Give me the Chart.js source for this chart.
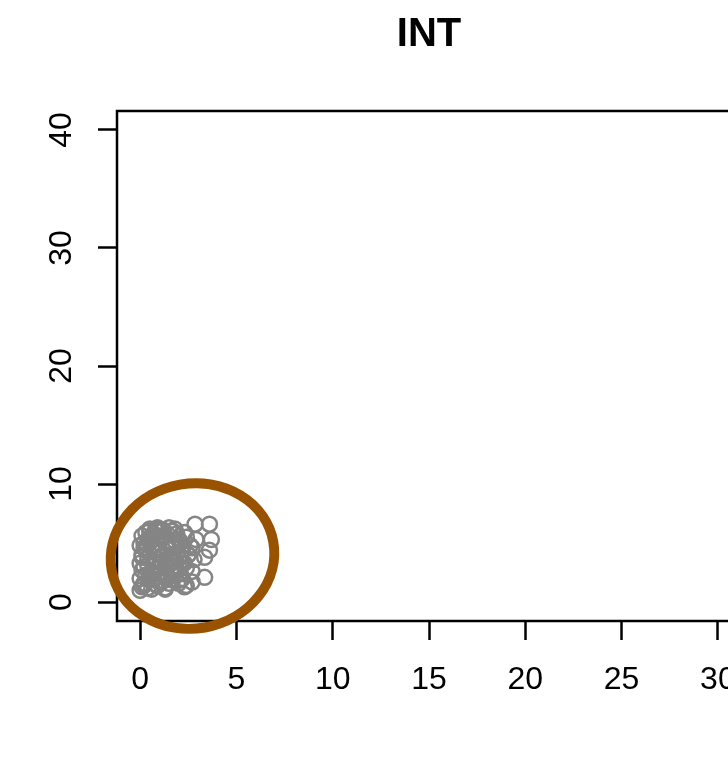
<!DOCTYPE html>
<html>
<head>
<meta charset="utf-8">
<script src="https://cdn.jsdelivr.net/npm/chart.js@4"></script>
<style>
  html, body { margin: 0; padding: 0; background: #fff; overflow: hidden; }
  #wrap { width: 728px; height: 777px; overflow: hidden; }
</style>
</head>
<body>
<div id="wrap"><canvas id="c" width="780" height="777"></canvas></div>
<script>
const title = 'INT';
const xTicks = [0, 5, 10, 15, 20, 25, 30];
const yTicks = [0, 10, 20, 30, 40];
const xLimits = [-1.2, 31.2];
const yLimits = [-1.6, 41.6];

// gray open circles
const pointX = [
  0.0, 0.1, 0.2, 0.0, 0.3, 0.1, 0.2, 0.0, 0.4, 0.1, 0.3, 0.0, 0.2, 0.4, 0.1, 0.5,
  0.6, 0.8, 0.7, 0.9, 0.6, 1.0, 0.8, 0.7, 1.1, 0.9, 0.6, 1.0, 0.8, 0.7, 1.2, 0.9, 1.1,
  1.3, 1.5, 1.4, 1.7, 1.6, 1.3, 1.8, 1.5, 1.9, 1.4, 1.6, 1.8, 1.3, 1.7, 1.5, 1.9,
  2.0, 2.2, 2.1, 2.4, 2.3, 2.0, 2.5, 2.2, 2.6, 2.1, 2.4, 2.3,
  2.7, 2.8, 2.7, 2.9,
  2.85, 3.6, 3.7, 3.6, 3.35, 3.35, 2.7,
  0.4, 1.0, 1.6, 2.2, 0.5, 1.2, 1.9, 0.3, 1.4,
  0.2, 0.5, 0.8, 1.1, 1.4, 1.7, 2.0, 2.3, 0.3, 0.6, 0.9, 1.2, 1.5, 1.8, 2.1, 2.4,
  0.1, 0.4, 0.7, 1.0, 1.3, 1.6, 1.9, 2.2, 2.5, 0.2, 0.5, 0.8, 1.1, 1.4, 1.7, 2.0,
  0.6, 1.0, 1.4, 1.8, 0.9, 1.3
];
const pointY = [
  1.0, 1.3, 1.6, 2.0, 2.3, 2.7, 3.0, 3.3, 3.7, 4.0, 4.4, 4.8, 5.0, 5.3, 5.6, 6.2,
  1.1, 1.5, 1.9, 2.2, 2.6, 2.9, 3.2, 3.5, 3.9, 4.2, 4.6, 5.0, 5.4, 5.8, 6.1, 6.3, 6.0,
  1.2, 1.6, 2.1, 2.5, 2.8, 3.1, 3.4, 3.8, 4.1, 4.5, 4.9, 5.2, 5.6, 6.0, 6.3, 5.8,
  1.6, 2.0, 2.4, 2.9, 3.3, 3.7, 4.0, 4.4, 4.8, 5.1, 5.5, 1.3,
  2.6, 3.6, 4.6, 5.3,
  6.6, 6.6, 5.3, 4.4, 3.8, 2.1, 1.7,
  1.2, 2.4, 3.6, 4.8, 6.0, 1.8, 2.7, 4.6, 5.1,
  1.4, 2.1, 2.8, 3.4, 4.0, 4.7, 5.3, 5.9, 5.9, 5.2, 4.5, 3.9, 3.2, 2.6, 1.9, 1.4,
  3.8, 3.1, 2.4, 1.7, 1.1, 1.9, 2.6, 3.3, 4.0, 4.6, 5.5, 6.1, 5.5, 4.6, 3.7, 3.0,
  5.6, 6.2, 5.8, 6.2, 1.4, 2.4
];

// brown ellipse: centre, radii (data units), tilt (degrees)
const ellipseCenter = [2.72, 3.9];
const ellipseRadius = [4.26, 6.14];
const ellipseTilt = [-10];

const points = pointX.map((x, i) => ({ x, y: pointY[i] }));

const font = "'Liberation Sans', Arial, Helvetica, sans-serif";

const framePlugin = {
  id: 'frame',
  afterDraw(chart) {
    const { ctx, chartArea: a, scales } = chart;
    ctx.save();
    // plot box
    ctx.strokeStyle = '#000';
    ctx.lineWidth = 2.5;
    ctx.strokeRect(a.left, a.top, a.right - a.left, a.bottom - a.top);
    // ellipse
    const cx = scales.x.getPixelForValue(ellipseCenter[0]);
    const cy = scales.y.getPixelForValue(ellipseCenter[1]);
    const rx = Math.abs(scales.x.getPixelForValue(ellipseCenter[0] + ellipseRadius[0]) - cx);
    const ry = Math.abs(scales.y.getPixelForValue(ellipseCenter[1] + ellipseRadius[1]) - cy);
    ctx.beginPath();
    ctx.ellipse(cx, cy, rx, ry, ellipseTilt[0] * Math.PI / 180, 0, Math.PI * 2);
    ctx.strokeStyle = '#985200';
    ctx.lineWidth = 10;
    ctx.stroke();
    // title
    ctx.fillStyle = '#000';
    ctx.font = `bold 40px ${font}`;
    ctx.textAlign = 'center';
    ctx.textBaseline = 'middle';
    ctx.fillText(title, (a.left + a.right) / 2, 35);
    ctx.restore();
  }
};

new Chart(document.getElementById('c'), {
  type: 'scatter',
  data: {
    datasets: [{
      data: points,
      pointStyle: 'circle',
      pointRadius: 7.5,
      pointBorderWidth: 2.5,
      borderColor: '#858585',
      backgroundColor: 'rgba(0,0,0,0)',
    }],
  },
  options: {
    responsive: false,
    animation: false,
    layout: { padding: { left: 0, top: 111, right: 39, bottom: 0 } },
    plugins: { legend: { display: false }, tooltip: { enabled: false } },
    scales: {
      x: {
        min: xLimits[0],
        max: xLimits[1],
        afterBuildTicks: s => { s.ticks = xTicks.map(v => ({ value: v })); },
        afterFit: s => { s.height = 156; },
        grid: { drawOnChartArea: false, drawTicks: true, tickLength: 19, tickWidth: 2.5, tickColor: '#000' },
        border: { display: false },
        ticks: { color: '#000', font: { family: font, size: 32 }, padding: 21, maxRotation: 0 },
      },
      y: {
        min: yLimits[0],
        max: yLimits[1],
        afterBuildTicks: s => { s.ticks = yTicks.map(v => ({ value: v })); },
        afterFit: s => { s.width = 117; },
        grid: { drawOnChartArea: false, drawTicks: true, tickLength: 19, tickWidth: 2.5, tickColor: '#000' },
        border: { display: false },
        ticks: { color: '#000', font: { family: font, size: 32 }, padding: 18, minRotation: 90, maxRotation: 90, crossAlign: 'center' },
      },
    },
  },
  plugins: [framePlugin],
});
</script>
</body>
</html>
